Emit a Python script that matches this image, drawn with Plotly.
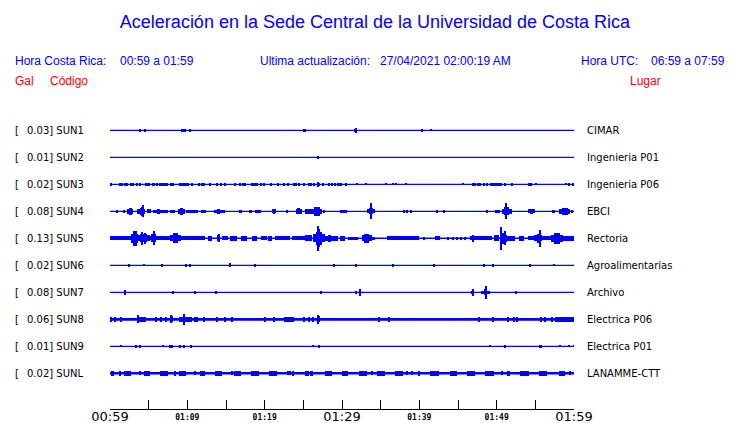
import plotly.graph_objects as go

# ---------------- data ----------------
stations = ["SUN1", "SUN2", "SUN3", "SUN4", "SUN5", "SUN6", "SUN7", "SUN8", "SUN9", "SUNL"]
peaks = ["0.03", "0.01", "0.02", "0.08", "0.13", "0.02", "0.08", "0.06", "0.01", "0.02"]
places = ["CIMAR", "Ingenieria P01", "Ingenieria P06", "EBCI", "Rectoria",
          "Agroalimentarias", "Archivo", "Electrica P06", "Electrica P01", "LANAMME-CTT"]

# time in minutes after 00:59 ; bursts = (start_min, end_min, half amplitude in trace px)
sun1 = [(3.89, 3.89, 1.3), (4.53, 4.53, 1.3), (9.2, 9.84, 1.7), (10.41, 10.41, 1.3),
        (25.0, 25.35, 1.5), (31.6, 31.95, 1.3), (31.78, 31.78, 2.5), (40.41, 40.41, 1.3),
        (41.58, 41.58, 1.0)]
sun2 = [(26.94, 26.94, 1.7)]
sun3 = [(0.09, 0.09, 1.4), (1.25, 1.25, 1.4), (1.55, 1.55, 1.4), (1.90, 1.90, 1.4), (2.16, 2.16, 1.4),
        (2.72, 2.72, 1.4), (3.02, 3.02, 1.4), (3.32, 3.63, 1.4), (3.93, 3.93, 1.4), (4.53, 5.14, 1.4),
        (5.48, 5.79, 1.4), (6.04, 6.04, 1.4), (6.35, 7.51, 1.4), (7.77, 8.29, 1.4), (8.89, 10.19, 1.4),
        (10.45, 10.75, 1.4), (11.53, 11.53, 1.4), (11.92, 11.92, 1.4), (12.22, 12.22, 1.4),
        (12.74, 13.04, 1.4), (13.90, 13.90, 1.4), (14.34, 14.34, 1.4), (14.94, 14.94, 1.4),
        (16.02, 16.32, 1.4), (16.84, 16.84, 1.4), (17.18, 17.18, 1.4), (17.44, 17.44, 1.4),
        (18.18, 19.17, 1.4), (19.60, 19.60, 1.4), (19.91, 19.91, 1.4), (20.64, 20.90, 1.4),
        (21.76, 21.76, 1.4), (22.45, 22.45, 1.4), (22.97, 22.97, 1.4), (23.75, 23.75, 1.4),
        (24.01, 24.01, 1.4), (24.40, 24.40, 1.4), (25.04, 25.04, 1.4), (25.56, 26.08, 1.4),
        (26.42, 26.42, 1.4), (26.77, 27.20, 1.6), (26.94, 26.94, 2.4), (27.55, 27.55, 1.4),
        (28.28, 28.28, 1.4), (28.67, 28.67, 1.4), (29.06, 29.06, 1.4), (29.40, 30.01, 1.4),
        (30.48, 30.48, 1.4), (32.00, 32.00, 1.0), (33.16, 33.16, 1.0), (35.71, 35.71, 1.0),
        (36.61, 36.61, 1.0), (37.00, 37.00, 1.0), (38.30, 38.30, 1.0), (45.64, 45.64, 1.0),
        (46.93, 46.93, 1.4), (47.24, 47.24, 1.4), (47.58, 47.58, 1.4), (47.89, 47.89, 1.4),
        (48.40, 48.40, 1.4), (48.75, 48.75, 1.4), (49.09, 50.69, 1.4), (51.12, 51.12, 1.4),
        (52.03, 52.03, 1.4), (54.15, 54.15, 1.4), (54.45, 54.45, 1.4), (55.10, 55.10, 1.0),
        (58.98, 58.98, 1.0), (59.33, 59.33, 1.4), (59.76, 59.97, 1.4)]
sun4 = [(0.91, 0.91, 1.3), (1.86, 1.86, 1.5), (2.16, 3.02, 2.2), (2.40, 2.85, 3.7), (3.50, 4.49, 2.5),
        (3.90, 4.40, 3.5), (4.27, 4.27, 6.0), (4.10, 4.10, 4.5), (4.79, 5.35, 2.0), (5.57, 7.51, 1.7),
        (6.10, 6.50, 2.3), (7.73, 8.38, 1.8), (8.81, 9.67, 2.3), (9.00, 9.45, 3.7), (9.89, 11.40, 1.7),
        (11.83, 12.35, 1.4), (13.39, 14.85, 1.7), (13.80, 14.20, 2.2), (16.71, 17.10, 1.7),
        (17.96, 18.31, 1.4), (18.74, 19.52, 1.3), (20.90, 21.42, 2.0), (21.10, 21.25, 2.6),
        (22.93, 22.93, 1.3), (24.01, 24.78, 2.2), (24.20, 24.55, 3.0), (25.22, 26.08, 2.2),
        (26.08, 27.38, 2.8), (26.40, 27.10, 4.5), (27.59, 27.81, 1.4), (29.75, 30.61, 1.7),
        (33.29, 34.28, 2.0), (33.55, 34.05, 3.0), (33.81, 33.81, 8.0), (38.08, 38.08, 1.3),
        (38.43, 38.43, 1.3), (38.95, 38.95, 1.3), (42.31, 42.31, 1.3), (43.14, 43.14, 1.3),
        (48.75, 48.75, 1.3), (49.83, 50.48, 1.8), (50.69, 51.99, 2.5), (50.95, 51.60, 4.0),
        (51.25, 51.25, 8.0), (54.06, 55.01, 2.0), (54.30, 54.75, 2.6), (57.17, 57.60, 1.7),
        (58.12, 59.54, 2.3), (58.40, 59.20, 3.5), (59.76, 59.76, 1.3)]
sun5 = [(0.0, 2.76, 2.1), (2.76, 3.63, 4.5), (2.95, 3.45, 7.7), (3.63, 5.14, 3.0), (3.90, 4.80, 4.0),
        (4.10, 4.10, 6.5), (4.60, 4.60, 5.5), (5.14, 5.35, 2.1), (5.35, 6.00, 4.0), (5.50, 5.85, 7.0),
        (6.00, 7.73, 2.1), (7.73, 9.24, 3.0), (8.10, 8.85, 5.0), (9.24, 12.26, 2.1), (12.69, 13.13, 2.6),
        (13.90, 14.21, 3.0), (14.02, 14.08, 4.0), (14.50, 15.30, 2.1), (15.50, 16.36, 2.6),
        (16.93, 17.66, 2.6), (18.31, 18.96, 2.8), (19.50, 20.30, 2.0), (20.47, 20.90, 2.6),
        (21.33, 23.27, 2.1), (23.49, 25.22, 2.1), (25.22, 26.08, 3.0), (26.30, 27.81, 4.0),
        (26.60, 27.45, 6.5), (26.80, 27.15, 9.0), (26.94, 26.94, 12.5), (27.81, 29.53, 2.8),
        (28.20, 28.60, 3.5), (29.75, 30.40, 2.3), (30.83, 32.12, 1.8), (32.56, 33.85, 3.0),
        (32.85, 33.50, 4.5), (33.85, 34.28, 1.8), (35.79, 39.90, 2.1), (40.54, 40.76, 1.5),
        (42.06, 42.70, 2.0), (43.78, 43.78, 1.5), (44.30, 44.30, 1.5), (44.86, 44.86, 1.5),
        (45.40, 45.40, 1.5), (45.94, 45.94, 1.5), (46.59, 49.40, 2.1), (46.90, 46.90, 3.5),
        (49.61, 50.26, 3.0), (50.48, 51.34, 3.5), (50.60, 50.60, 11.5), (51.04, 51.04, 7.0),
        (50.70, 51.10, 5.5), (51.34, 52.42, 2.6), (52.85, 53.50, 2.6), (54.00, 54.80, 2.0),
        (54.80, 55.87, 3.0), (55.20, 55.75, 4.5), (55.61, 55.61, 8.7), (55.87, 57.08, 2.1),
        (57.08, 58.55, 3.5), (57.40, 58.20, 5.5), (58.55, 60.0, 2.3)]
sun6 = [(2.46, 2.46, 1.7), (4.40, 4.40, 1.0), (6.56, 6.82, 1.5), (9.67, 9.93, 1.5), (10.19, 10.45, 1.5),
        (15.40, 15.60, 2.0), (18.61, 18.87, 1.5), (28.80, 29.06, 1.5), (31.78, 31.78, 1.5),
        (36.48, 36.74, 1.5), (41.71, 41.97, 1.5), (48.27, 48.53, 1.5), (49.48, 49.48, 1.5),
        (54.36, 54.36, 1.5), (57.38, 57.38, 1.0)]
sun7 = [(1.75, 2.05, 2.7), (8.20, 8.20, 1.2), (10.97, 11.10, 1.5), (13.69, 13.82, 1.5),
        (27.10, 27.40, 1.5), (31.78, 31.78, 1.2), (32.25, 32.50, 1.7), (32.38, 32.38, 3.5),
        (46.80, 47.00, 1.7), (46.89, 46.89, 3.5), (48.01, 49.18, 1.7), (48.30, 48.80, 3.0),
        (48.58, 48.58, 6.7), (52.40, 52.60, 1.5)]
sun8 = [(0.0, 0.20, 2.6), (0.47, 0.78, 2.6), (1.30, 1.45, 2.6), (3.50, 4.71, 2.6), (3.67, 3.67, 4.0),
        (6.00, 6.00, 2.3), (6.65, 6.65, 2.3), (7.30, 7.30, 2.3), (7.73, 8.16, 3.0), (7.95, 7.95, 4.0),
        (8.89, 10.62, 2.6), (9.59, 9.59, 5.3), (10.90, 11.40, 2.6), (12.13, 12.13, 2.5),
        (13.86, 13.86, 2.3), (14.94, 14.94, 2.3), (15.72, 15.90, 2.6), (20.03, 20.03, 2.3),
        (21.24, 21.24, 2.3), (22.45, 23.83, 2.6), (25.04, 25.20, 2.6), (25.60, 25.90, 2.6),
        (26.30, 26.30, 2.5), (26.77, 27.20, 3.0), (26.94, 26.94, 4.5), (34.72, 34.85, 2.6),
        (36.10, 36.10, 2.3), (47.67, 47.67, 2.3), (49.48, 49.48, 2.3), (51.34, 51.50, 2.6),
        (52.20, 52.20, 2.3), (52.59, 52.59, 2.3), (55.61, 55.75, 2.6), (56.22, 56.22, 2.3),
        (57.17, 57.17, 2.3), (57.60, 60.0, 2.6)]
sun9 = [(1.47, 1.47, 1.0), (3.41, 3.41, 1.3), (3.84, 3.95, 1.5), (6.87, 6.87, 1.0), (7.73, 7.73, 1.3),
        (8.07, 8.07, 1.3), (9.02, 9.15, 1.5), (9.59, 9.59, 1.3), (10.45, 10.45, 1.3), (26.30, 26.30, 1.0),
        (27.00, 27.20, 1.5), (49.18, 49.18, 1.0), (51.12, 51.12, 1.3), (55.60, 55.80, 1.5),
        (58.25, 58.25, 1.0), (59.33, 59.33, 1.0), (59.97, 59.97, 1.0)]
sunl = [(0.09, 0.47, 2.3), (1.25, 1.25, 2.2), (1.81, 2.76, 2.3), (3.84, 3.84, 2.0), (4.40, 5.22, 2.3),
        (6.43, 7.51, 2.3), (8.38, 8.38, 2.2), (8.89, 9.89, 2.3), (10.97, 10.97, 2.0), (11.61, 12.26, 2.3),
        (13.56, 14.51, 2.3), (15.85, 15.85, 2.0), (16.06, 16.93, 2.3), (18.22, 19.26, 2.3),
        (20.55, 21.55, 2.3), (22.97, 22.97, 2.0), (23.27, 23.27, 2.0), (23.70, 23.70, 2.2),
        (25.22, 25.73, 2.3), (25.86, 26.30, 2.3), (27.81, 28.67, 2.3), (29.97, 30.83, 2.3),
        (32.21, 33.20, 2.3), (33.85, 33.85, 2.0), (34.50, 35.58, 2.3), (36.87, 37.95, 2.3),
        (38.38, 38.38, 2.0), (39.03, 39.03, 2.0), (39.90, 40.11, 2.2), (41.41, 42.49, 2.3),
        (44.00, 44.86, 2.3), (46.16, 47.24, 2.3), (48.53, 49.61, 2.3), (50.69, 50.69, 2.0),
        (51.34, 51.77, 2.3), (53.07, 54.15, 2.3), (55.44, 56.52, 2.3), (58.03, 58.89, 2.3),
        (59.54, 59.54, 2.0)]
bursts = [sun1, sun2, sun3, sun4, sun5, sun6, sun7, sun8, sun9, sunl]

tick_minutes = list(range(0, 61, 5))
big_tick_vals = [0, 30, 60]
big_tick_text = ["00:59", "01:29", "01:59"]
small_tick_vals = [10, 20, 40, 50]
small_tick_text = ["01:09", "01:19", "01:39", "01:49"]

title_text = "Aceleración en la Sede Central de la Universidad de Costa Rica"

# ---------------- style / layout ----------------
BLUE = "#0000FF"
RED = "#FF0000"
OFF = 8                      # page body margin offset
W, H = 740 - OFF, 423 - OFF  # figure size
PLOT_L, PLOT_R = 110.3, 574.0   # page pixels
PLOT_T, AXIS_Y = 100.0, 409.0
L = PLOT_L - OFF
R = 740 - PLOT_R
T = PLOT_T - OFF
B = H - (AXIS_Y - OFF)
ROW_PX = 27.0
FIRST_ROW_PX = 130.3
MINW = 0.15
base_width = [1.2, 1.2, 1.2, 1.2, 1.6, 1.2, 1.2, 2.8, 1.2, 2.6]
TXT_PAD = 2

plot_w = PLOT_R - PLOT_L
plot_h = AXIS_Y - PLOT_T
y_top = (PLOT_T - FIRST_ROW_PX) / ROW_PX
y_bot = (AXIS_Y - FIRST_ROW_PX) / ROW_PX


def px_x(px):
    return (px - TXT_PAD - PLOT_L) / plot_w


def px_y(py):
    return (AXIS_Y - py) / plot_h


fig = go.Figure()
for i, bl in enumerate(bursts):
    fig.add_trace(go.Scatter(x=[0, 60], y=[i, i], mode="lines",
                             line=dict(color=BLUE, width=base_width[i]),
                             showlegend=False, hoverinfo="skip"))
    xs = [(a + b) / 2 for a, b, h in bl]
    ws = [max(b - a, MINW) for a, b, h in bl]
    bs = [i - h / ROW_PX for a, b, h in bl]
    ys = [2 * h / ROW_PX for a, b, h in bl]
    fig.add_trace(go.Bar(x=xs, y=ys, base=bs, width=ws,
                         marker=dict(color=BLUE, line=dict(width=0)),
                         showlegend=False, hoverinfo="skip"))

fig.add_trace(go.Scatter(x=[0, 60], y=[0, 0], xaxis="x2", mode="lines",
                         line=dict(width=0), showlegend=False, hoverinfo="skip"))

ann = []
lab_font = dict(family="DejaVu Sans", size=10, color="black")
for i in range(len(stations)):
    ann.append(dict(x=px_x(15), y=i, xref="paper", yref="y", text="[", showarrow=False,
                    xanchor="left", yanchor="middle", font=lab_font))
    ann.append(dict(x=px_x(27), y=i, xref="paper", yref="y", text=f"{peaks[i]}] {stations[i]}",
                    showarrow=False, xanchor="left", yanchor="middle", font=lab_font))
    ann.append(dict(x=px_x(587), y=i, xref="paper", yref="y", text=places[i], showarrow=False,
                    xanchor="left", yanchor="middle", font=lab_font))

hdr_font = dict(family="Liberation Sans", size=12, color=BLUE)
red_font = dict(family="Liberation Sans", size=12, color=RED)
header = [(15, "Hora Costa Rica:"), (120, "00:59 a 01:59"), (260, "Ultima actualización:"),
          (380, "27/04/2021 02:00:19 AM"), (581, "Hora UTC:"), (651, "06:59 a 07:59")]
for x, t in header:
    ann.append(dict(x=px_x(x), y=px_y(61), xref="paper", yref="paper", text=t, showarrow=False,
                    xanchor="left", yanchor="middle", font=hdr_font))
for x, t in [(15, "Gal"), (50, "Código"), (630, "Lugar")]:
    ann.append(dict(x=px_x(x), y=px_y(81), xref="paper", yref="paper", text=t, showarrow=False,
                    xanchor="left", yanchor="middle", font=red_font))

fig.update_layout(
    width=W, height=H,
    margin=dict(l=L, r=R, t=T, b=B, pad=0),
    paper_bgcolor="white", plot_bgcolor="white",
    barmode="overlay", bargap=0,
    title=dict(text=title_text, x=(375 - OFF) / W, xanchor="center", xref="container",
               y=1 - (22 - OFF) / H, yanchor="middle", yref="container",
               font=dict(family="Liberation Sans", size=18, color=BLUE)),
    xaxis=dict(range=[0, 60], showgrid=False, zeroline=False, showline=True,
               linecolor="black", linewidth=1.2, ticks="inside", ticklen=9, tickwidth=1,
               tickcolor="black", tickvals=tick_minutes,
               ticktext=[big_tick_text[big_tick_vals.index(v)] if v in big_tick_vals else ""
                         for v in tick_minutes],
               tickfont=dict(family="DejaVu Sans", size=13, color="black"),
               ticklabelstandoff=-5,
               anchor="y", automargin=False, fixedrange=True),
    xaxis2=dict(range=[0, 60], overlaying="x", side="bottom", anchor="y", showgrid=False,
                zeroline=False, showline=False, ticks="", tickvals=small_tick_vals,
                ticktext=small_tick_text,
                tickfont=dict(family="DejaVu Sans Mono", size=8, color="black", weight="bold"),
                ticklabelstandoff=2,
                automargin=False, fixedrange=True),
    yaxis=dict(range=[y_bot, y_top], visible=False, fixedrange=True),
    annotations=ann,
)

fig.write_html("out.html")
